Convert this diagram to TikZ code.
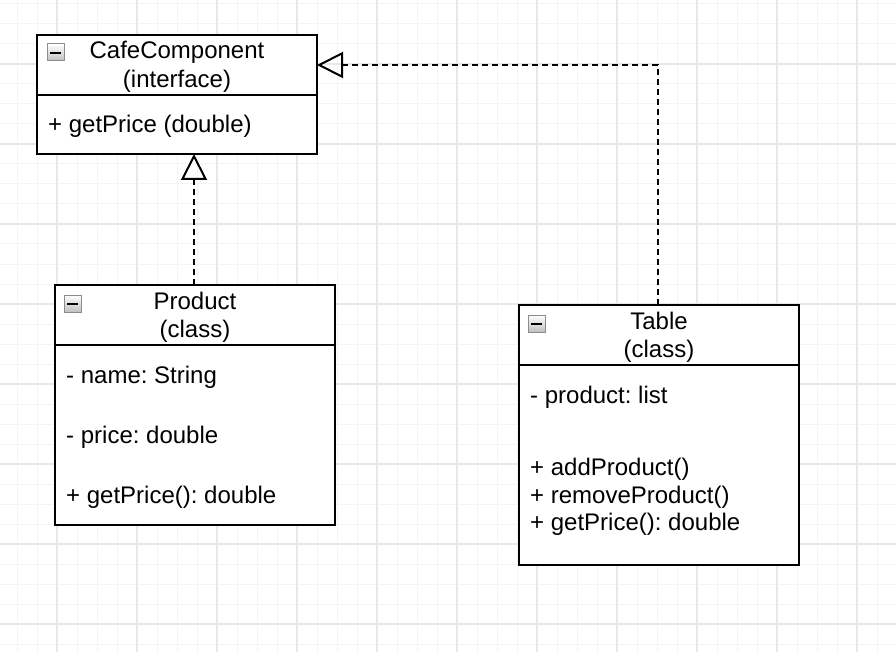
\documentclass[tikz,border=0pt]{standalone}
\usepackage{fontspec}
\setmainfont{Liberation Sans}
\usepackage{xcolor}
\definecolor{gridlight}{rgb}{0.955, 0.955, 0.955}
\definecolor{griddark}{rgb}{0.91, 0.91, 0.91}
\usetikzlibrary{arrows.meta, positioning}
\frenchspacing

\tikzset{
	classhead/.style={draw, line width=2pt, rectangle, fill=white, inner sep=0pt, outer sep=0pt, minimum width=280pt, minimum height=60pt, anchor=north west},
	classbody/.style={draw, line width=2pt, rectangle, fill=white, inner sep=0pt, outer sep=0pt, minimum width=280pt},
	umltext/.style={inner sep=0pt, font=\fontsize{24}{28}\selectfont},
	umltitle/.style={umltext, anchor=base},
	umlitem/.style={umltext, anchor=base west},
	realize/.style={line width=2pt, dash pattern=on 6pt off 4pt, -{Triangle[open, length=26pt, width=26pt]}},
	gridminor/.style={line width=1pt, gridlight},
	gridmajor/.style={line width=1.2pt, griddark}
}

\begin{document}
\begin{tikzpicture}[x=1pt, y=-1pt]
			\useasboundingbox[fill=white] (0,0) rectangle (896,652);

			% Background grid
			\foreach \gx in {17,37,...,897}
			\draw[gridminor] (\gx,0) -- (\gx,652);
			\foreach \gy in {4,24,...,644}
			\draw[gridminor] (0,\gy) -- (896,\gy);
			\foreach \gx in {57,137,...,857}
			\draw[gridmajor] (\gx,0) -- (\gx,652);
			\foreach \gy in {64,144,...,624}
			\draw[gridmajor] (0,\gy) -- (896,\gy);

			% Class boxes
			\node[classhead] (cafehead) at (37,35) {};
			\node[classbody, below=0pt of cafehead, minimum height=59pt] (cafebody) {};
			\node[classhead] (producthead) at (55,285) {};
			\node[classbody, below=0pt of producthead, minimum height=180pt] (productbody) {};
			\node[classhead] (tablehead) at (519,305) {};
			\node[classbody, below=0pt of tablehead, minimum height=200pt] (tablebody) {};

			% Titles
			\node[umltitle] (cafename) at (177,59) {CafeComponent};
			\node[umltitle] (cafekind) at (177,88) {(interface)};
			\node[umltitle] (productname) at (195,309) {Product};
			\node[umltitle] (productkind) at (195,337) {(class)};
			\node[umltitle] (tablename) at (659,329) {Table};
			\node[umltitle] (tablekind) at (659,357) {(class)};

			% Members
			\node[umlitem] (cafeprice) at (48,133) {+ getPrice (double)};
			\node[umlitem] (productattr) at (66,383) {- name: String};
			\node[umlitem] (productprice) at (66,443) {- price: double};
			\node[umlitem] (productget) at (66,503) {+ getPrice(): double};
			\node[umlitem] (tablelist) at (530,403) {- product: list};
			\node[umlitem] (tableadd) at (530,475) {+ addProduct()};
			\node[umlitem] (tableremove) at (530,503) {+ removeProduct()};
			\node[umlitem] (tableget) at (530,530) {+ getPrice(): double};

			% Collapse icons
			\foreach \ix/\iy in {47/44,64/295,528/315}
			{
			\shade[top color=white, bottom color=black!25, draw=black!45, line width=1pt] (\ix,\iy) rectangle ++(17,17);
			\draw[line width=2pt] (\ix+3,\iy+9) -- ++(11,0);
			}

			% Realizations
			\draw[realize] ([xshift=-1pt]producthead.north) -- ([xshift=-1pt]producthead.north |- cafebody.south);
			\draw[realize] ([xshift=-1pt]tablehead.north) |- (cafehead.east);
		\end{tikzpicture}
\end{document}
